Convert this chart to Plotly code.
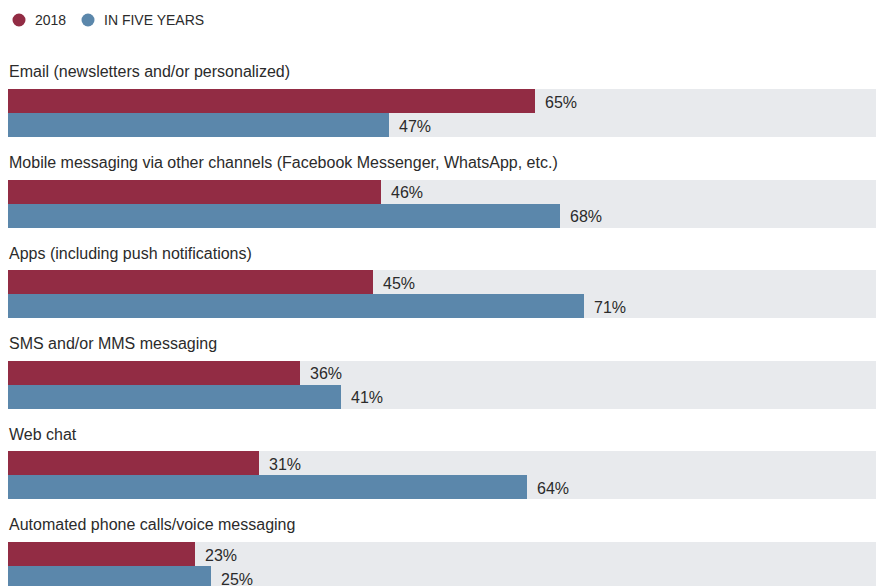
import plotly.graph_objects as go

categories = [
    "Email (newsletters and/or personalized)",
    "Mobile messaging via other channels (Facebook Messenger, WhatsApp, etc.)",
    "Apps (including push notifications)",
    "SMS and/or MMS messaging",
    "Web chat",
    "Automated phone calls/voice messaging",
]
values_2018 = [65, 46, 45, 36, 31, 23]
values_5yrs = [47, 68, 71, 41, 64, 25]
series_names = ["2018", "IN FIVE YEARS"]

RED = "#922C44"
BLUE = "#5B87AB"
GREY = "#E8EAED"
TXT = "#2B2B2B"
COND = "Liberation Sans, Arial, sans-serif"

W, H = 876, 586
XMAX = 107.0
PITCH = 3.775  # group spacing in bar-height units
n = len(categories)
y_red = [i * PITCH for i in range(n)]
y_blue = [y + 1 for y in y_red]
y_band = [y + 0.5 for y in y_red]

fig = go.Figure()
fig.add_trace(go.Bar(x=[XMAX] * n, y=y_band, orientation="h", width=2,
                     marker=dict(color=GREY, line=dict(width=0)),
                     showlegend=False, hoverinfo="skip"))
fig.add_trace(go.Bar(x=values_2018, y=y_red, orientation="h", width=1,
                     marker=dict(color=RED, line=dict(width=0)),
                     name=series_names[0], showlegend=False))
fig.add_trace(go.Bar(x=values_5yrs, y=y_blue, orientation="h", width=1,
                     marker=dict(color=BLUE, line=dict(width=0)),
                     name=series_names[1], showlegend=False))

annotations = []
for i, cat in enumerate(categories):
    annotations.append(dict(x=0, xref="x", xanchor="left", xshift=-1,
                            y=y_red[i] - 1.21, yref="y", yanchor="middle",
                            text=cat, showarrow=False,
                            font=dict(family=COND, size=16, color=TXT)))
    for vals, ys in ((values_2018, y_red), (values_5yrs, y_blue)):
        annotations.append(dict(x=vals[i], xref="x", xanchor="left", xshift=8,
                                y=ys[i], yref="y", yanchor="middle", yshift=-1,
                                text=f"{vals[i]}%", showarrow=False,
                                font=dict(family=COND, size=16, color=TXT)))

# legend
legend_items = [(19, 33, series_names[0], RED), (88, 102, series_names[1], BLUE)]
shapes = []
for cx, tx, label, col in legend_items:
    shapes.append(dict(type="circle", xref="paper", yref="paper",
                       xsizemode="pixel", ysizemode="pixel",
                       xanchor=cx / W, yanchor=1 - 20 / H,
                       x0=-6.5, x1=6.5, y0=-6.5, y1=6.5,
                       fillcolor=col, line=dict(width=0)))
    annotations.append(dict(x=tx / W, xref="paper", xanchor="left",
                            y=1 - 20 / H, yref="paper", yanchor="middle",
                            text=label, showarrow=False,
                            font=dict(family="Liberation Sans, Arial, sans-serif",
                                      size=14, color=TXT)))

top_units = -101 / 24
fig.update_layout(
    width=W, height=H,
    margin=dict(l=0, r=0, t=0, b=0),
    paper_bgcolor="white", plot_bgcolor="white",
    barmode="overlay", bargap=0,
    xaxis=dict(range=[0, XMAX], domain=[8 / W, 1], visible=False, fixedrange=True),
    yaxis=dict(range=[top_units + H / 24, top_units], visible=False, fixedrange=True),
    annotations=annotations, shapes=shapes,
    showlegend=False,
)
fig.write_html("out.html")
